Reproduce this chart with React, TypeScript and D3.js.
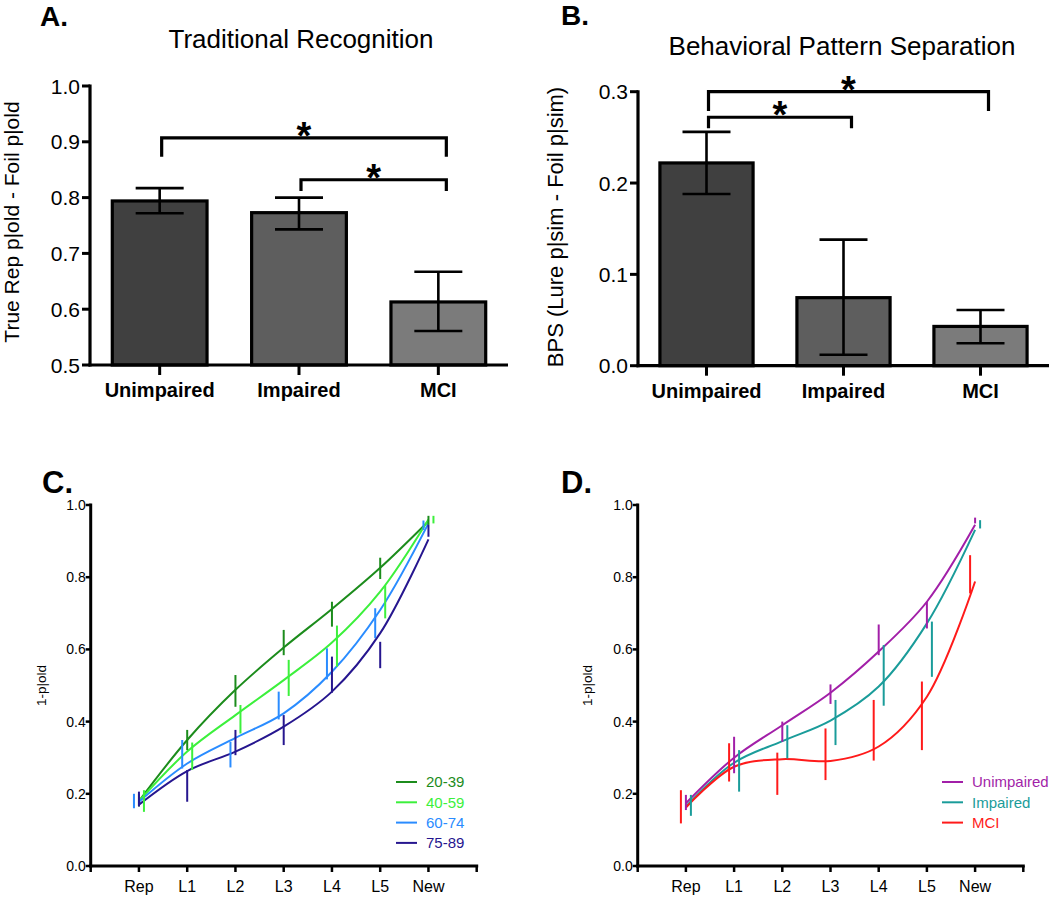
import React from "react";
import * as d3 from "d3";

// ---------- Data ----------
const barCategories = ["Unimpaired", "Impaired", "MCI"];
const barColors = ["#404040", "#5e5e5e", "#7b7b7b"];

// Panel A: Traditional Recognition
const trMeans = [0.794, 0.773, 0.613];
const trLow = [0.772, 0.743, 0.561];
const trHigh = [0.817, 0.8, 0.667];
const trTicks = [0.5, 0.6, 0.7, 0.8, 0.9, 1.0];
// brackets: [from, to, barY, legY]
const trBrackets: [number, number, number, number][] = [
  [0, 2, 0.907, 0.873],
  [1, 2, 0.832, 0.812],
];

// Panel B: Behavioral Pattern Separation
const bpsMeans = [0.222, 0.0745, 0.043];
const bpsLow = [0.188, 0.012, 0.0245];
const bpsHigh = [0.256, 0.138, 0.061];
const bpsTicks = [0.0, 0.1, 0.2, 0.3];
const bpsBrackets: [number, number, number, number][] = [
  [0, 2, 0.3, 0.279],
  [0, 1, 0.272, 0.26],
];

// Panels C & D
const lureCategories = ["Rep", "L1", "L2", "L3", "L4", "L5", "New"];
const lureTicks = [0, 0.2, 0.4, 0.6, 0.8, 1.0];

const ageGroups = ["20-39", "40-59", "60-74", "75-89"];
const ageColors = ["#1c8c1c", "#3cf03c", "#2a8cff", "#26168f"];
const ageJitter = [0, 5, -5, 0];
const ageFit = [
  [0.18, 0.349, 0.488, 0.605, 0.712, 0.826, 0.955],
  [0.18, 0.317, 0.418, 0.515, 0.619, 0.76, 0.96],
  [0.178, 0.284, 0.355, 0.423, 0.538, 0.709, 0.949],
  [0.17, 0.263, 0.317, 0.386, 0.483, 0.645, 0.905],
];
const ageLow = [
  [0.165, 0.321, 0.441, 0.584, 0.663, 0.795, 0.945],
  [0.15, 0.266, 0.367, 0.471, 0.552, 0.686, 0.949],
  [0.16, 0.27, 0.273, 0.406, 0.517, 0.631, 0.931],
  [0.165, 0.178, 0.307, 0.335, 0.48, 0.548, 0.912],
];
const ageHigh = [
  [0.2, 0.377, 0.529, 0.654, 0.732, 0.854, 0.97],
  [0.21, 0.342, 0.446, 0.571, 0.666, 0.778, 0.97],
  [0.2, 0.349, 0.344, 0.483, 0.603, 0.714, 0.957],
  [0.206, 0.266, 0.377, 0.418, 0.58, 0.621, 0.945],
];

const groups = ["Unimpaired", "Impaired", "MCI"];
const groupColors = ["#a21fa8", "#1a9c9a", "#ff1a1a"];
const groupJitter = [0, 5, -5];
const groupFit = [
  [0.174, 0.3, 0.39, 0.48, 0.594, 0.732, 0.945],
  [0.165, 0.286, 0.346, 0.403, 0.497, 0.672, 0.931],
  [0.162, 0.275, 0.296, 0.291, 0.331, 0.469, 0.788],
];
const groupLow = [
  [0.155, 0.257, 0.344, 0.449, 0.584, 0.658, 0.949],
  [0.139, 0.206, 0.298, 0.335, 0.444, 0.524, 0.935],
  [0.118, 0.234, 0.197, 0.238, 0.292, 0.321, 0.755],
];
const groupHigh = [
  [0.197, 0.358, 0.4, 0.503, 0.669, 0.732, 0.965],
  [0.197, 0.321, 0.39, 0.46, 0.612, 0.677, 0.958],
  [0.21, 0.34, 0.314, 0.381, 0.46, 0.511, 0.861],
];

const FONT = "'Liberation Sans', Arial, Helvetica, sans-serif";

// ---------- Bar panel ----------
function BarPanel(props: {
  left: number; right: number; top: number; bottom: number;
  domain: [number, number]; ticks: number[]; means: number[]; low: number[]; high: number[];
  brackets: [number, number, number, number][];
  letter: string; letterX: number; letterY: number;
  title: string; titleX: number; titleY: number;
  ylabel: string; ylabelX: number; ylabelY: number; ylabelSize: number;
}) {
  const { left, right, top, bottom, domain, ticks, means, low, high, brackets } = props;
  const x = d3.scaleBand<string>().domain(barCategories).range([left, right]).paddingInner(0.32).paddingOuter(0.16);
  const y = d3.scaleLinear().domain(domain).range([bottom, top]);
  const bw = x.bandwidth();
  const cx = (c: string) => (x(c) as number) + bw / 2;
  return (
    <g fontFamily={FONT}>
      <text x={props.letterX} y={props.letterY} fontSize={28} fontWeight="bold">{props.letter}</text>
      <text x={props.titleX} y={props.titleY} fontSize={26} textAnchor="middle">{props.title}</text>
      <text transform={`translate(${props.ylabelX},${props.ylabelY}) rotate(-90)`} fontSize={props.ylabelSize} textAnchor="middle">{props.ylabel}</text>
      {barCategories.map((c, i) => (
        <g key={c}>
          <rect x={x(c)} y={y(means[i])} width={bw} height={y(domain[0]) - y(means[i])} fill={barColors[i]} stroke="#000" strokeWidth={3.2} />
          <line x1={cx(c)} x2={cx(c)} y1={y(low[i])} y2={y(high[i])} stroke="#000" strokeWidth={2.6} />
          <line x1={cx(c) - 24} x2={cx(c) + 24} y1={y(high[i])} y2={y(high[i])} stroke="#000" strokeWidth={2.6} />
          <line x1={cx(c) - 24} x2={cx(c) + 24} y1={y(low[i])} y2={y(low[i])} stroke="#000" strokeWidth={2.6} />
          <line x1={cx(c)} x2={cx(c)} y1={bottom} y2={bottom + 10} stroke="#000" strokeWidth={3} />
          <text x={cx(c)} y={bottom + 32} fontSize={20} fontWeight="bold" textAnchor="middle">{c}</text>
        </g>
      ))}
      {ticks.map((t) => (
        <g key={t}>
          <line x1={left - 8} x2={left} y1={y(t)} y2={y(t)} stroke="#000" strokeWidth={3} />
          <text x={left - 10} y={y(t)} dy="0.36em" fontSize={21} textAnchor="end">{t.toFixed(1)}</text>
        </g>
      ))}
      <line x1={left} x2={left} y1={top - 1.5} y2={bottom + 1.5} stroke="#000" strokeWidth={3.2} />
      <line x1={left - 1.5} x2={right} y1={bottom} y2={bottom} stroke="#000" strokeWidth={3.2} />
      {brackets.map(([a, b, yb, yl], k) => {
        const x1 = cx(barCategories[a]) + 2;
        const x2 = cx(barCategories[b]) + 8;
        return (
          <g key={k}>
            <path d={`M${x1},${y(yl)}V${y(yb)}H${x2}V${y(yl)}`} fill="none" stroke="#000" strokeWidth={3.2} />
            <text x={(x1 + x2) / 2} y={y(yb) + 11} fontSize={38} fontWeight="bold" textAnchor="middle">*</text>
          </g>
        );
      })}
    </g>
  );
}

// ---------- Curve panel ----------
function CurvePanel(props: {
  left: number; right: number; top: number; bottom: number;
  fits: number[][]; lows: number[][]; highs: number[][]; colors: string[]; jitter: number[];
  names: string[]; legendX: number; legendY: number;
  letter: string; letterX: number; letterY: number; ylabelX: number;
}) {
  const { left, right, top, bottom, fits, lows, highs, colors, jitter, names } = props;
  const x = d3.scaleLinear().domain([-1, lureCategories.length]).range([left, right]);
  const y = d3.scaleLinear().domain([0, 1]).range([bottom, top]);
  const line = d3.line<number>().x((_, i) => x(i)).y((d) => y(d)).curve(d3.curveCatmullRom.alpha(0.5));
  const xTickIdx = d3.range(-1, lureCategories.length + 1);
  return (
    <g fontFamily={FONT}>
      <text x={props.letterX} y={props.letterY} fontSize={31} fontWeight="bold">{props.letter}</text>
      <text transform={`translate(${props.ylabelX},${(top + bottom) / 2}) rotate(-90)`} fontSize={13.5} textAnchor="middle">1-p|old</text>
      {fits.map((f, s) => (
        <path key={"c" + s} d={line(f) as string} fill="none" stroke={colors[s]} strokeWidth={2} />
      ))}
      {fits.map((f, s) => (
        <g key={"e" + s}>
          {f.map((_, i) => (
            <line key={i} x1={x(i) + jitter[s]} x2={x(i) + jitter[s]} y1={y(lows[s][i])} y2={y(highs[s][i])} stroke={colors[s]} strokeWidth={2} />
          ))}
        </g>
      ))}
      {lureTicks.map((t) => (
        <g key={t}>
          <line x1={left - 5} x2={left} y1={y(t)} y2={y(t)} stroke="#000" strokeWidth={2.5} />
          <text x={left - 5} y={y(t)} dy="0.36em" fontSize={14} textAnchor="end">{t.toFixed(1)}</text>
        </g>
      ))}
      {xTickIdx.map((i) => (
        <line key={i} x1={x(i)} x2={x(i)} y1={bottom} y2={bottom + 6} stroke="#000" strokeWidth={2.5} />
      ))}
      {lureCategories.map((c, i) => (
        <text key={c} x={x(i)} y={bottom + 26} fontSize={16} textAnchor="middle">{c}</text>
      ))}
      <line x1={left} x2={left} y1={top - 1.5} y2={bottom + 1.5} stroke="#000" strokeWidth={3} />
      <line x1={left - 1.5} x2={right + 1.5} y1={bottom} y2={bottom} stroke="#000" strokeWidth={3} />
      {names.map((n, s) => (
        <g key={n}>
          <line x1={props.legendX} x2={props.legendX + 21} y1={props.legendY + s * 20.3} y2={props.legendY + s * 20.3} stroke={colors[s]} strokeWidth={2} />
          <text x={props.legendX + 30} y={props.legendY + s * 20.3} dy="0.36em" fontSize={15} fill={colors[s]}>{n}</text>
        </g>
      ))}
    </g>
  );
}

export default function App() {
  return (
    <svg width={1050} height={897} style={{ position: "absolute", left: 0, top: 0, background: "#fff" }}>
      <rect width={1050} height={897} fill="#fff" />
      <BarPanel left={90} right={508} top={86} bottom={365} domain={[0.5, 1.0]} ticks={trTicks}
        means={trMeans} low={trLow} high={trHigh} brackets={trBrackets}
        letter="A." letterX={40} letterY={26} title="Traditional Recognition" titleX={301} titleY={48}
        ylabel="True Rep p|old - Foil p|old" ylabelX={19} ylabelY={222} ylabelSize={21} />
      <BarPanel left={638} right={1049} top={91.7} bottom={365.7} domain={[0, 0.3]} ticks={bpsTicks}
        means={bpsMeans} low={bpsLow} high={bpsHigh} brackets={bpsBrackets}
        letter="B." letterX={561} letterY={25} title="Behavioral Pattern Separation" titleX={842} titleY={55}
        ylabel="BPS (Lure p|sim - Foil p|sim)" ylabelX={563} ylabelY={227} ylabelSize={22} />
      <CurvePanel left={90.7} right={476.7} top={505} bottom={866} fits={ageFit} lows={ageLow} highs={ageHigh}
        colors={ageColors} jitter={ageJitter} names={ageGroups} legendX={396} legendY={782}
        letter="C." letterX={42} letterY={493} ylabelX={46} />
      <CurvePanel left={637.7} right={1023.3} top={505} bottom={866} fits={groupFit} lows={groupLow} highs={groupHigh}
        colors={groupColors} jitter={groupJitter} names={groups} legendX={942} legendY={782}
        letter="D." letterX={561} letterY={493} ylabelX={592} />
    </svg>
  );
}
